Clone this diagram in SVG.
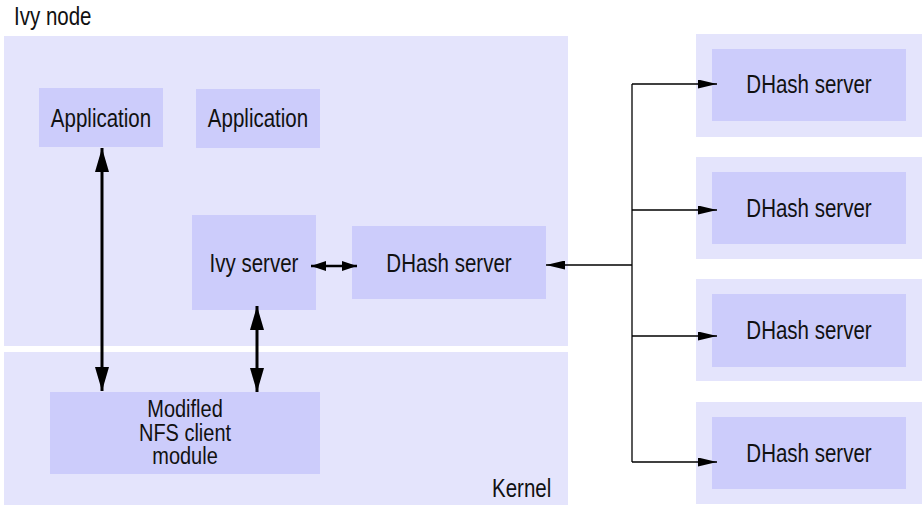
<svg xmlns="http://www.w3.org/2000/svg" width="923" height="507" viewBox="0 0 923 507">
<style>
text{font-family:"Liberation Sans",Arial,sans-serif;font-size:25px;fill:#111;}
.c{text-anchor:middle;}
.n{font-size:23.5px;}
.outer{fill:#e4e4fc;}
.inner{fill:#ccccfb;}
.thick{stroke:#000;stroke-width:3;fill:none;}
.mid{stroke:#000;stroke-width:2.5;fill:none;}
.thin{stroke:#000;stroke-width:1.3;fill:none;}
</style>
<defs>
<marker id="ah-thick" markerUnits="userSpaceOnUse" markerWidth="24" markerHeight="14" refX="24" refY="7" orient="auto-start-reverse"><path d="M0,0 L24,7 L0,14 z" fill="#000"/></marker>
<marker id="ah-mid" markerUnits="userSpaceOnUse" markerWidth="15" markerHeight="10" refX="15" refY="5" orient="auto-start-reverse"><path d="M0,0 L15,5 L0,10 z" fill="#000"/></marker>
<marker id="ah-thin" markerUnits="userSpaceOnUse" markerWidth="19" markerHeight="9" refX="19" refY="4.5" orient="auto-start-reverse"><path d="M0,0 L19,4.5 L0,9 z" fill="#000"/></marker>
</defs>

<text transform="translate(14,25) scale(0.82,1)">Ivy node</text>
<g id="ivy-node"><rect class="outer" x="4" y="36" width="564" height="310"/></g>
<g id="kernel"><rect class="outer" x="4" y="352" width="564" height="153"/><text transform="translate(492,497) scale(0.82,1)">Kernel</text></g>

<g id="app1"><rect class="inner" x="39" y="88" width="124" height="59"/><text class="c" transform="translate(101,127) scale(0.82,1)">Application</text></g>
<g id="app2"><rect class="inner" x="196" y="89" width="124" height="59"/><text class="c" transform="translate(258,127) scale(0.82,1)">Application</text></g>
<g id="ivy-server"><rect class="inner" x="192" y="215" width="124" height="95"/><text class="c" transform="translate(254,272) scale(0.82,1)">Ivy server</text></g>
<g id="dhash-local"><rect class="inner" x="352" y="226" width="194" height="73"/><text class="c" transform="translate(449,272) scale(0.82,1)">DHash server</text></g>
<g id="nfs"><rect class="inner" x="50" y="392" width="270" height="82"/>
<text class="c n" transform="translate(185,417) scale(0.85,1)">Modifled</text><text class="c n" transform="translate(185,441) scale(0.85,1)">NFS client</text><text class="c n" transform="translate(185,464) scale(0.85,1)">module</text></g>

<g id="remote1"><rect class="outer" x="696" y="34" width="226" height="103"/><rect class="inner" x="712" y="49" width="194" height="72"/><text class="c" transform="translate(809,93) scale(0.82,1)">DHash server</text></g>
<g id="remote2"><rect class="outer" x="696" y="157" width="226" height="102"/><rect class="inner" x="712" y="172" width="194" height="72"/><text class="c" transform="translate(809,217) scale(0.82,1)">DHash server</text></g>
<g id="remote3"><rect class="outer" x="696" y="279" width="226" height="102"/><rect class="inner" x="712" y="294" width="194" height="73"/><text class="c" transform="translate(809,339) scale(0.82,1)">DHash server</text></g>
<g id="remote4"><rect class="outer" x="696" y="402" width="226" height="102"/><rect class="inner" x="712" y="417" width="194" height="72"/><text class="c" transform="translate(809,462) scale(0.82,1)">DHash server</text></g>

<g id="connectors">
<line class="thick" x1="102" y1="148" x2="102" y2="391" marker-start="url(#ah-thick)" marker-end="url(#ah-thick)"/>
<line class="thick" x1="257" y1="306" x2="257" y2="392" marker-start="url(#ah-thick)" marker-end="url(#ah-thick)"/>
<line class="mid" x1="311" y1="266" x2="357" y2="266" marker-start="url(#ah-mid)" marker-end="url(#ah-mid)"/>
<line class="thin" x1="632" y1="265" x2="546" y2="265" marker-end="url(#ah-thin)"/>
<line class="thin" x1="632" y1="84" x2="632" y2="462"/>
<line class="thin" x1="632" y1="84" x2="717" y2="84" marker-end="url(#ah-thin)"/>
<line class="thin" x1="632" y1="210" x2="717" y2="210" marker-end="url(#ah-thin)"/>
<line class="thin" x1="632" y1="336" x2="717" y2="336" marker-end="url(#ah-thin)"/>
<line class="thin" x1="632" y1="462" x2="717" y2="462" marker-end="url(#ah-thin)"/>
</g>
</svg>
